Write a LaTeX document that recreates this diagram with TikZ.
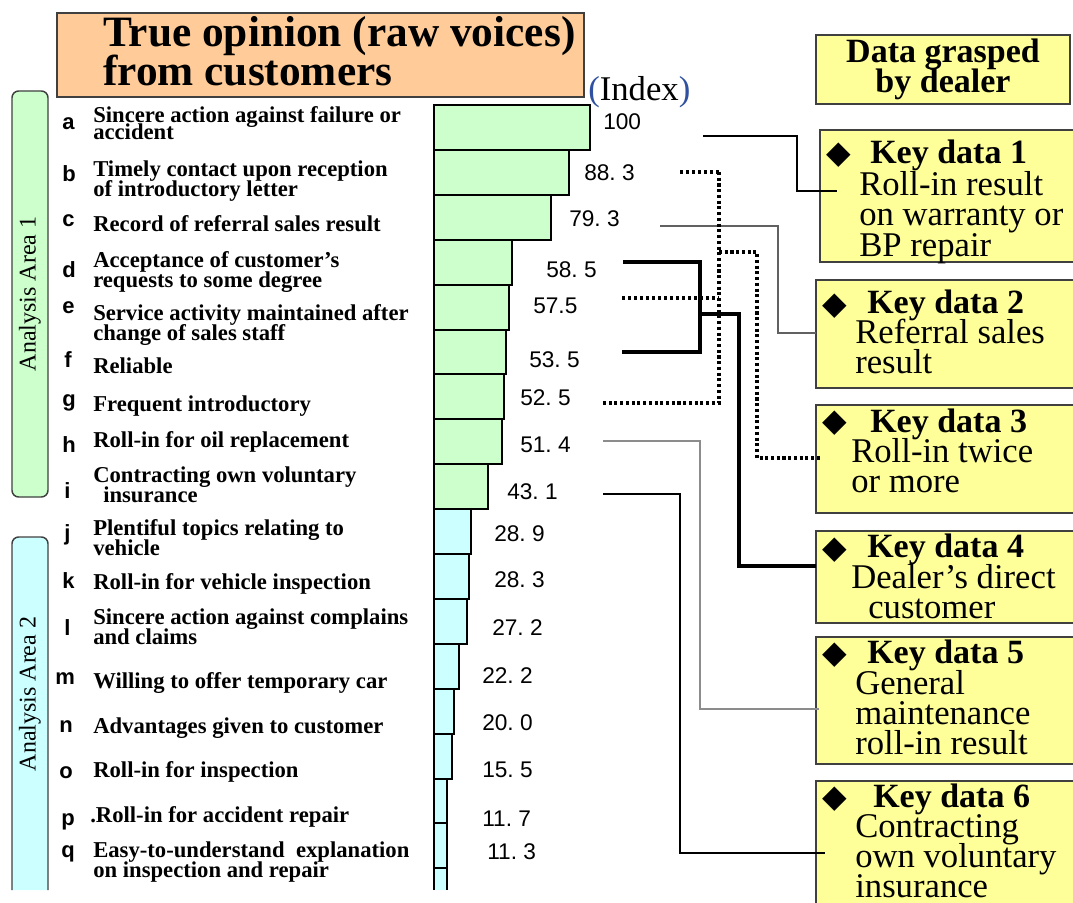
\documentclass[tikz,border=0pt]{standalone}
\usepackage{fontspec}
\setmainfont{Liberation Serif}
\newfontfamily\sansf{Liberation Sans}
\newfontfamily\symf{DejaVu Sans}
\definecolor{peach}{HTML}{FFCC99}
\definecolor{bargreen}{HTML}{CCFFCC}
\definecolor{barcyan}{HTML}{CCFFFF}
\definecolor{kdyellow}{HTML}{FFFF99}
\definecolor{boxline}{HTML}{404040}
\definecolor{parenblue}{HTML}{3050A0}
\begin{document}
% keep the tight line spacing even where descenders meet ascenders
\lineskiplimit=-100pt
\begin{tikzpicture}[x=0.75pt,y=-0.75pt,
  lbl/.style={anchor=base west,inner sep=0pt,align=left,font=\bfseries\fontsize{17}{15}\selectfont},
  ltr/.style={anchor=base west,inner sep=0pt,font=\sansf\bfseries\fontsize{16.5}{16.5}\selectfont},
  val/.style={anchor=base west,inner sep=0pt,font=\sansf\fontsize{17}{17}\selectfont},
  barbox/.style={draw=black,line width=1.5pt},
  areabox/.style={draw=boxline,line width=1.1pt,rounded corners=5pt},
  kdbox/.style={draw=boxline,fill=kdyellow,line width=1.1pt,anchor=north west,inner sep=0pt,outer sep=0pt},
  kdt/.style={anchor=base west,inner sep=0pt,font=\bfseries\fontsize{25.5}{25.5}\selectfont},
  kdb/.style={anchor=base west,inner sep=0pt,align=left,font=\fontsize{26}{22.5}\selectfont},
  dia/.style={anchor=west,inner sep=0pt,font=\symf\fontsize{24}{24}\selectfont},
  blackwire/.style={draw=black,line width=0.9pt},
  graywire/.style={draw=black!62,line width=0.9pt},
  lightwire/.style={draw=black!45,line width=1.1pt},
  heavywire/.style={draw=black,line width=2.6pt},
  dotwire/.style={draw=black,line width=2.3pt,dash pattern=on 2.3pt off 2pt},
  dotheavy/.style={draw=black,line width=2.8pt,dash pattern=on 2.6pt off 1.9pt}
]
\useasboundingbox (0,0) rectangle (1073,902);
\clip (0,0) rectangle (1073,902);

% heading
\draw[draw=boxline,fill=peach,line width=1.1pt] (57,13) rectangle (584,97);
\node[anchor=base west,inner sep=0pt,align=left,font=\bfseries\fontsize{32.5}{29.25}\selectfont] (title) at (103,86) {True opinion (raw voices)\\from customers};
\node[anchor=base west,inner sep=0pt,font=\fontsize{26}{26}\selectfont] (index) at (588,101) {\textcolor{parenblue}{(}Index\textcolor{parenblue}{)}};

% analysis areas
\draw[areabox,fill=bargreen] (12,91) rectangle (48,497);
\draw[areabox,fill=barcyan] (12,890) -- (12,537) -- (48,537) -- (48,890);
\node[rotate=90,inner sep=0pt,font=\fontsize{18}{18}\selectfont] (area1) at (30,294) {Analysis Area 1};
\node[rotate=90,inner sep=0pt,font=\fontsize{18}{18}\selectfont] (area2) at (30,694) {Analysis Area 2};

% index bars
\foreach \xr [count=\i from 0] in {590,569,551,512,509,506,504,502,488}
  \draw[barbox,fill=bargreen] (434,{105+44.9*\i}) rectangle (\xr,{105+44.9*(\i+1)});
\foreach \xr [count=\i from 9] in {471,469,467,459,454,452,447,447}
  \draw[barbox,fill=barcyan] (434,{105+44.9*\i}) rectangle (\xr,{105+44.9*(\i+1)});
\fill[barcyan] (434,868.3) rectangle (447,890);
\draw[barbox] (434,890) -- (434,868.3) -- (447,868.3) -- (447,890);

% item letters
\node[ltr] (la) at (62,130) {a};
\node[ltr] (lb) at (62,182) {b};
\node[ltr] (lc) at (62,227) {c};
\node[ltr] (ld) at (62,277) {d};
\node[ltr] (le) at (62,313) {e};
\node[ltr] (lf) at (64,367) {f};
\node[ltr] (lg) at (62,406) {g};
\node[ltr] (lh) at (62,452) {h};
\node[ltr] (li) at (64,498) {i};
\node[ltr] (lj) at (64,540) {j};
\node[ltr] (lk) at (62,588) {k};
\node[ltr] (ll) at (64,635) {l};
\node[ltr] (lm) at (55,684) {m};
\node[ltr] (ln) at (59,732) {n};
\node[ltr] (lo) at (59,778) {o};
\node[ltr] (lp) at (61,825) {p};
\node[ltr] (lq) at (61,857) {q};

% item texts (a multi-line node sits on the baseline of its last line)
\node[lbl,font=\bfseries\fontsize{17}{13.2}\selectfont] (ta) at (93,140) {Sincere action against failure or\\accident};
\node[lbl] (tb) at (93,197) {Timely contact upon reception\\of introductory letter};
\node[lbl] (tc) at (93,232) {Record of referral sales result};
\node[lbl] (td) at (93,287) {Acceptance of customer’s\\requests to some degree};
\node[lbl] (te) at (93,340) {Service activity maintained after\\change of sales staff};
\node[lbl] (tf) at (93,373) {Reliable};
\node[lbl] (tg) at (93,411) {Frequent introductory};
\node[lbl] (th) at (93,447) {Roll-in for oil replacement};
\node[lbl] (ti) at (93,502) {Contracting own voluntary\\\hspace*{7.5pt}insurance};
\node[lbl] (tj) at (93,555) {Plentiful topics relating to\\vehicle};
\node[lbl] (tk) at (93,589) {Roll-in for vehicle inspection};
\node[lbl] (tl) at (93,644) {Sincere action against complains\\and claims};
\node[lbl] (tm) at (93,688) {Willing to offer temporary car};
\node[lbl] (tn) at (93,733) {Advantages given to customer};
\node[lbl] (to) at (93,777) {Roll-in for inspection};
\node[lbl] (tp) at (90,822) {.Roll-in for accident repair};
\node[lbl] (tq) at (93,877) {Easy-to-understand\ \ explanation\\on inspection and repair};

% index values
\node[val] (va) at (603,130) {100};
\node[val] (vb) at (584,181) {88.\ 3};
\node[val] (vc) at (569,227) {79.\ 3};
\node[val] (vd) at (546,277) {58.\ 5};
\node[val] (ve) at (533,313) {57.5};
\node[val] (vf) at (529,367) {53.\ 5};
\node[val] (vg) at (520,405) {52.\ 5};
\node[val] (vh) at (520,452) {51.\ 4};
\node[val] (vi) at (507,499) {43.\ 1};
\node[val] (vj) at (494,541) {28.\ 9};
\node[val] (vk) at (494,587) {28.\ 3};
\node[val] (vl) at (492,635) {27.\ 2};
\node[val] (vm) at (482,683) {22.\ 2};
\node[val] (vn) at (482,730) {20.\ 0};
\node[val] (vo) at (482,777) {15.\ 5};
\node[val] (vp) at (482,826) {11.\ 7};
\node[val] (vq) at (487,859) {11.\ 3};

% dealer data boxes
\draw[draw=boxline,fill=kdyellow,line width=1.1pt] (816,35) rectangle (1070,104);
\node[anchor=base,inner sep=0pt,align=center,font=\bfseries\fontsize{25.5}{22.5}\selectfont] (dealer) at (943,93) {Data grasped\\by dealer};

\node[kdbox,minimum width={270*0.75pt},minimum height={132*0.75pt}] (kd1) at (820,130) {};
\node[kdbox,minimum width={274*0.75pt},minimum height={108*0.75pt}] (kd2) at (816,280) {};
\node[kdbox,minimum width={274*0.75pt},minimum height={108*0.75pt}] (kd3) at (816,405) {};
\node[kdbox,minimum width={274*0.75pt},minimum height={92*0.75pt}] (kd4) at (816,531) {};
\node[kdbox,minimum width={274*0.75pt},minimum height={127*0.75pt}] (kd5) at (816,637) {};
\node[kdbox,minimum width={274*0.75pt},minimum height={140*0.75pt}] (kd6) at (816,781) {};

\node[dia] (d1) at (826,155) {◆};
\node[dia] (d2) at (822,306) {◆};
\node[dia] (d3) at (822,423) {◆};
\node[dia] (d4) at (822,550) {◆};
\node[dia] (d5) at (822,655) {◆};
\node[dia] (d6) at (822,799) {◆};

\node[kdt] (k1) at (870,164) {Key data 1};
\node[kdt] (k2) at (867,313) {Key data 2};
\node[kdt] (k3) at (870,432) {Key data 3};
\node[kdt] (k4) at (867,557) {Key data 4};
\node[kdt] (k5) at (867,663) {Key data 5};
\node[kdt] (k6) at (873,807) {Key data 6};

\node[kdb] (b1) at (859,256) {Roll-in result\\on warranty or\\BP repair};
\node[kdb] (b2) at (855,373) {Referral sales\\result};
\node[kdb] (b3) at (851,492) {Roll-in twice\\or more};
\node[kdb] (b4) at (851,618) {Dealer’s direct\\\hspace*{12.75pt}customer};
\node[kdb] (b5) at (855,754) {General\\maintenance\\roll-in result};
\node[kdb] (b6) at (855,897) {Contracting\\own voluntary\\insurance};

% connectors from the index values to the key data
\coordinate (s1) at (703,136);
\coordinate (s2) at (660,226);
\coordinate (s3a) at (680,172);
\coordinate (s3b) at (622,298);
\coordinate (s3c) at (603,403);
\coordinate (s4a) at (623,262);
\coordinate (s4b) at (622,352);
\coordinate (s5) at (603,441);
\coordinate (s6) at (603,494);

\draw[blackwire] (s1) -- (797,136) |- ([xshift=12.75pt]kd1.west |- 0,191);
\draw[graywire] (s2) -- (778,226) |- (kd2.west |- 0,333);

\draw[dotwire] (719,172) -- (719,403) -- (s3c);
\draw[dotheavy] (s3a) -- (719,172);
\draw[dotheavy] (s3b) -- (719,298);
\draw[dotwire] (719,252) -- (757,252) |- ([xshift=4.5pt]kd3.west |- 0,458);

\draw[heavywire] (s4a) -- (700,262) -- (700,352) -- (s4b);
\draw[heavywire] (700,314) -- (739,314) |- (kd4.west |- 0,566);

\draw[lightwire] (s5) -- (700,441) |- ([xshift=2.25pt]kd5.west |- 0,709);
\draw[blackwire] (s6) -- (680,494) |- ([xshift=6.75pt]kd6.west |- 0,853);
\end{tikzpicture}
\end{document}
